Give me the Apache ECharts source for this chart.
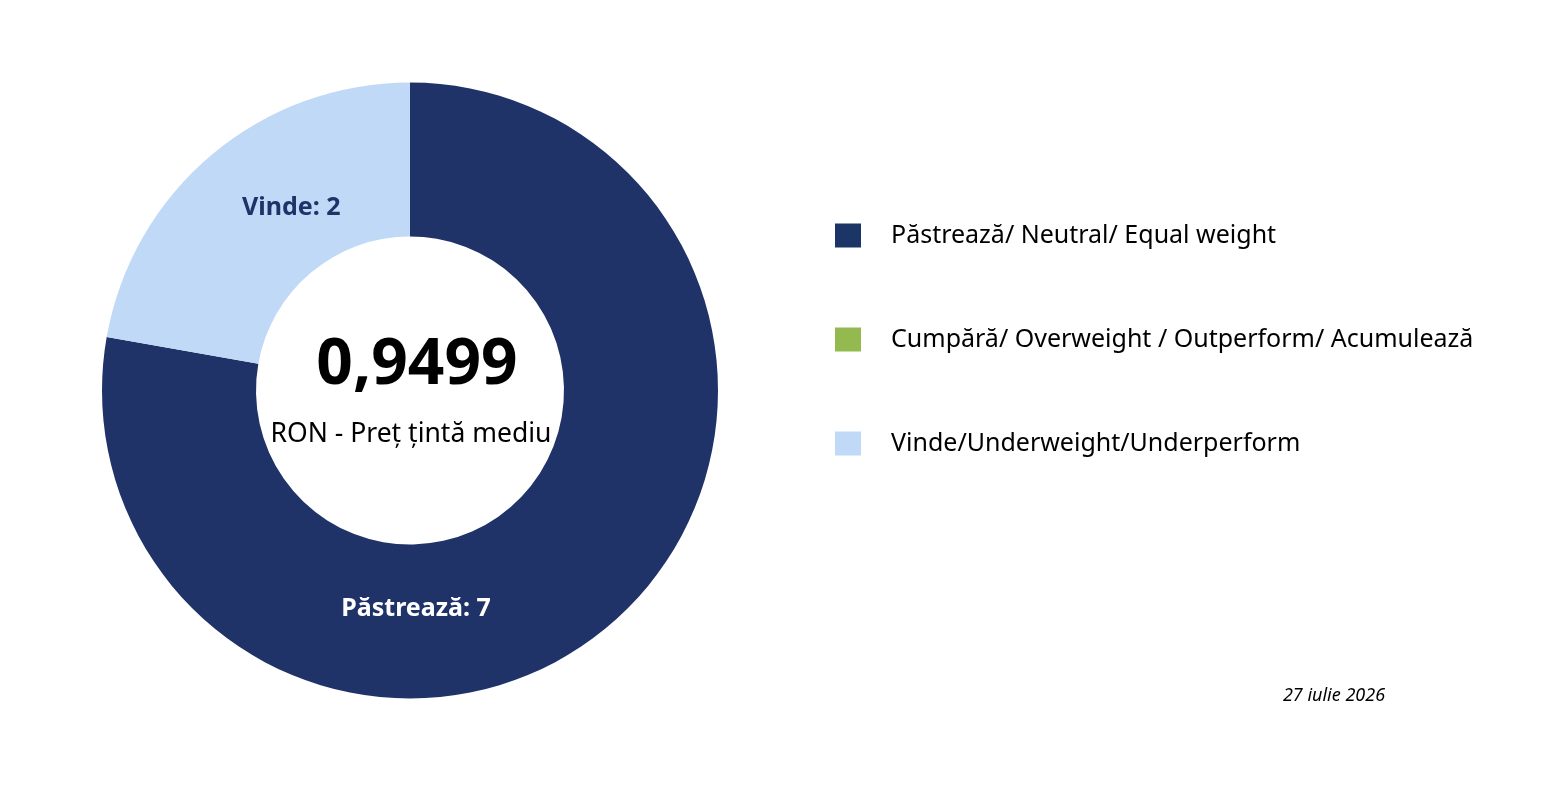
<!DOCTYPE html>
<html>
<head>
<meta charset="utf-8">
<script src="https://cdn.jsdelivr.net/npm/echarts@6/dist/echarts.min.js"></script>
<style>html,body{margin:0;padding:0;background:#fff;}#c{width:1562px;height:786px;}</style>
</head>
<body>
<div id="c"></div>
<script>
const categories = ['Păstrează/ Neutral/ Equal weight', 'Cumpără/ Overweight / Outperform/ Acumulează', 'Vinde/Underweight/Underperform'];
const shortNames = ['Păstrează', 'Cumpără', 'Vinde'];
const counts = [7, 0, 2];
const colors = ['#1F3368', '#94BA4F', '#BFD9F6'];
const legendColors = ['#1A3566', '#94BA4F', '#BFD9F6'];
const labelColors = ['#FFFFFF', '#FFFFFF', '#1F3368'];
const centerValue = '0,9499';
const centerCaption = 'RON - Preț țintă mediu';
const dateText = '27 iulie 2026';
const labelAngles = [-88.4, 0, 123];
const labelRadius = 218;

const FONT = 'Noto Sans';
const chart = echarts.init(document.getElementById('c'));
const cx = 410, cy = 390.5;

chart.setOption({
  backgroundColor: '#fff',
  animation: false,
  legend: {
    orient: 'vertical',
    left: 835,
    top: 223,
    padding: 0,
    icon: 'rect',
    itemWidth: 26,
    itemHeight: 24,
    itemGap: 79,
    selectedMode: false,
    textStyle: { fontFamily: FONT, fontSize: 25, color: '#000', lineHeight: 24, padding: [0, 0, 0, 25] },
    data: categories.map((n, i) => ({ name: n, itemStyle: { color: legendColors[i] } }))
  },
  graphic: [
    { type: 'text', x: 417, y: 366, style: { text: centerValue, font: 'bold 64px "Noto Sans"', fill: '#000', textAlign: 'center', textVerticalAlign: 'middle' } },
    { type: 'text', x: 411, y: 434, style: { text: centerCaption, font: '26.5px "Noto Sans"', fill: '#000', textAlign: 'center', textVerticalAlign: 'middle' } },
    { type: 'text', x: 1334, y: 696, style: { text: dateText, font: 'italic 18px "Noto Sans"', fill: '#000', textAlign: 'center', textVerticalAlign: 'middle' } }
  ],
  series: [{
    type: 'pie',
    center: [cx, cy],
    radius: [154, 308],
    startAngle: 90,
    clockwise: true,
    avoidLabelOverlap: false,
    emphasis: { disabled: true },
    itemStyle: { borderWidth: 0 },
    label: {
      show: true,
      position: 'inside',
      fontFamily: FONT,
      fontSize: 25,
      fontWeight: 'bold',
      formatter: p => shortNames[p.dataIndex] + ': ' + p.value
    },
    labelLine: { show: false },
    labelLayout: function (params) {
      const a = labelAngles[params.dataIndex] * Math.PI / 180;
      return { x: cx + labelRadius * Math.cos(a), y: cy - labelRadius * Math.sin(a), align: 'center', verticalAlign: 'middle' };
    },
    data: categories.map((n, i) => ({
      name: n,
      value: counts[i],
      itemStyle: { color: colors[i] },
      label: { show: counts[i] > 0, color: labelColors[i] }
    }))
  }]
});
</script>
</body>
</html>
